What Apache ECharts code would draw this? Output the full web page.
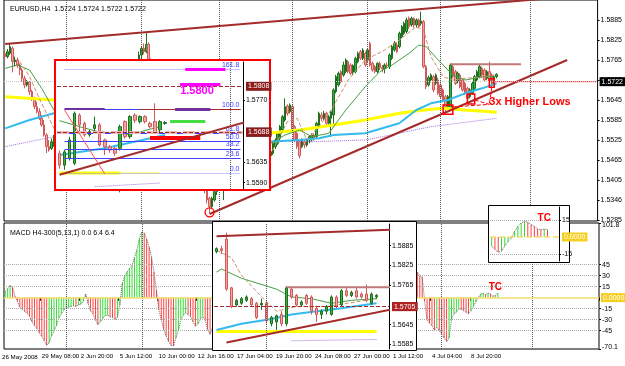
<!DOCTYPE html>
<html>
<head>
<meta charset="utf-8">
<script src="https://cdn.jsdelivr.net/npm/echarts@6/dist/echarts.min.js"></script>
<style>
  html, body { margin: 0; padding: 0; background: #fff; }
  #chart { width: 625px; height: 366px; }
</style>
</head>
<body>
<div id="chart"></div>
<script>
// ---- main chart data (EURUSD H4) ----
const barCount = 244;
const dateTicks = [[0,'26 May 2008'],[15,'29 May 08:00'],[31,'2 Jun 20:00'],[47,'5 Jun 12:00'],[63,'10 Jun 00:00'],
  [79,'12 Jun 16:00'],[95,'17 Jun 04:00'],[111,'19 Jun 20:00'],[127,'24 Jun 08:00'],[143,'27 Jun 00:00'],
  [159,'1 Jul 12:00'],[175,'4 Jul 04:00'],[191,'8 Jul 20:00']];
const priceTicks = [1.5285,1.5345,1.5405,1.5465,1.5525,1.5585,1.5645,1.5705,1.5765,1.5825,1.5885];
const priceTickLabels = ['1.5285','1.5346','1.5405','1.5465','1.5525','1.5585','1.5645','1.5705','1.5765','1.5825','1.5885'];
const weekLines = [25,56,88,118,149,179,216];

// [open, close, low, high]
const candles = [
[1.5785,1.5775,1.5768,1.5792],[1.5775,1.5790,1.5770,1.5798],[1.5785,1.5805,1.5780,1.5815],[1.5800,1.5760,1.5728,1.5806],
[1.5760,1.5765,1.5745,1.5775],[1.5765,1.5750,1.5742,1.5772],[1.5750,1.5735,1.5720,1.5755],[1.5735,1.5710,1.5700,1.5740],
[1.5710,1.5690,1.5680,1.5718],[1.5690,1.5700,1.5685,1.5705],[1.5700,1.5670,1.5660,1.5702],[1.5670,1.5650,1.5642,1.5675],
[1.5650,1.5625,1.5618,1.5655],[1.5625,1.5610,1.5605,1.5640],[1.5610,1.5590,1.5585,1.5620],[1.5590,1.5570,1.5565,1.5600],
[1.5570,1.5540,1.5535,1.5585],[1.5540,1.5505,1.5486,1.5545],[1.5505,1.5495,1.5490,1.5525],[1.5500,1.5520,1.5495,1.5530],
[1.5520,1.5530,1.5505,1.5540],[1.5530,1.5545,1.5515,1.5552],[1.5545,1.5535,1.5525,1.5560],[1.5535,1.5550,1.5530,1.5558],
[1.5550,1.5540,1.5532,1.5562],[1.5540,1.5525,1.5515,1.5548],[1.5525,1.5540,1.5520,1.5545],[1.5540,1.5555,1.5535,1.5565],
[1.5555,1.5545,1.5538,1.5570],[1.5545,1.5535,1.5525,1.5550],[1.5535,1.5548,1.5530,1.5555],[1.5548,1.5560,1.5540,1.5570],
[1.5560,1.5575,1.5552,1.5582],[1.5575,1.5565,1.5555,1.5585],[1.5565,1.5540,1.5530,1.5570],[1.5540,1.5520,1.5510,1.5545],
[1.5520,1.5500,1.5490,1.5525],[1.5500,1.5480,1.5470,1.5505],[1.5480,1.5490,1.5470,1.5498],[1.5490,1.5475,1.5465,1.5495],
[1.5475,1.5485,1.5468,1.5492],[1.5485,1.5470,1.5460,1.5490],[1.5470,1.5455,1.5445,1.5478],[1.5455,1.5465,1.5448,1.5470],
[1.5465,1.5450,1.5440,1.5472],[1.5450,1.5440,1.5425,1.5458],[1.5440,1.5420,1.5410,1.5445],[1.5405,1.5420,1.5368,1.5430],
[1.5420,1.5500,1.5410,1.5510],[1.5500,1.5560,1.5490,1.5575],[1.5560,1.5600,1.5545,1.5610],[1.5600,1.5640,1.5590,1.5650],
[1.5640,1.5665,1.5625,1.5680],[1.5665,1.5700,1.5655,1.5710],[1.5700,1.5745,1.5695,1.5755],[1.5745,1.5780,1.5738,1.5790],
[1.5780,1.5800,1.5770,1.5805],[1.5800,1.5790,1.5782,1.5815],[1.5790,1.5812,1.5785,1.5846],[1.5812,1.5762,1.5755,1.5818],
[1.5762,1.5735,1.5728,1.5770],[1.5735,1.5705,1.5695,1.5740],[1.5705,1.5690,1.5675,1.5715],[1.5690,1.5660,1.5650,1.5695],
[1.5660,1.5620,1.5610,1.5665],[1.5620,1.5590,1.5580,1.5628],[1.5590,1.5560,1.5550,1.5595],[1.5560,1.5530,1.5520,1.5565],
[1.5530,1.5510,1.5495,1.5538],[1.5510,1.5490,1.5480,1.5515],[1.5490,1.5505,1.5482,1.5512],[1.5505,1.5520,1.5498,1.5528],
[1.5520,1.5510,1.5500,1.5530],[1.5510,1.5525,1.5505,1.5535],[1.5525,1.5515,1.5505,1.5532],[1.5515,1.5500,1.5490,1.5520],
[1.5500,1.5490,1.5480,1.5505],[1.5490,1.5470,1.5460,1.5495],[1.5470,1.5450,1.5440,1.5475],[1.5450,1.5455,1.5435,1.5462],
[1.5455,1.5440,1.5430,1.5460],[1.5440,1.5410,1.5400,1.5445],[1.5410,1.5375,1.5365,1.5415],[1.5375,1.5345,1.5335,1.5380],
[1.5350,1.5325,1.5306,1.5355],[1.5325,1.5350,1.5318,1.5355],[1.5345,1.5370,1.5340,1.5378],[1.5370,1.5395,1.5360,1.5405],
[1.5395,1.5410,1.5385,1.5420],[1.5410,1.5400,1.5390,1.5418],[1.5375,1.5400,1.5345,1.5410],[1.5400,1.5425,1.5395,1.5432],
[1.5425,1.5450,1.5418,1.5458],[1.5450,1.5470,1.5440,1.5480],[1.5470,1.5460,1.5450,1.5482],[1.5460,1.5490,1.5455,1.5498],
[1.5490,1.5500,1.5478,1.5512],[1.5500,1.5485,1.5475,1.5508],[1.5485,1.5500,1.5478,1.5510],[1.5500,1.5525,1.5495,1.5535],
[1.5525,1.5510,1.5500,1.5532],[1.5510,1.5495,1.5485,1.5515],[1.5495,1.5505,1.5488,1.5512],[1.5505,1.5520,1.5498,1.5530],
[1.5520,1.5500,1.5490,1.5525],[1.5500,1.5485,1.5478,1.5505],[1.5485,1.5495,1.5475,1.5502],[1.5495,1.5505,1.5485,1.5512],
[1.5505,1.5475,1.5470,1.5510],[1.5478,1.5490,1.5472,1.5498],[1.5485,1.5515,1.5480,1.5520],[1.5505,1.5525,1.5498,1.5530],
[1.5515,1.5545,1.5510,1.5550],[1.5530,1.5565,1.5525,1.5570],[1.5555,1.5595,1.5550,1.5600],[1.5585,1.5625,1.5580,1.5650],
[1.5627,1.5605,1.5598,1.5632],[1.5610,1.5630,1.5605,1.5635],[1.5625,1.5555,1.5550,1.5632],[1.5565,1.5525,1.5518,1.5570],
[1.5545,1.5505,1.5498,1.5550],[1.5520,1.5478,1.5470,1.5525],[1.5505,1.5525,1.5500,1.5530],[1.5520,1.5510,1.5500,1.5528],
[1.5510,1.5525,1.5505,1.5530],[1.5525,1.5535,1.5515,1.5540],[1.5530,1.5540,1.5520,1.5545],[1.5540,1.5530,1.5522,1.5545],
[1.5535,1.5575,1.5530,1.5580],[1.5570,1.5605,1.5565,1.5610],[1.5600,1.5590,1.5582,1.5608],[1.5590,1.5605,1.5585,1.5612],
[1.5605,1.5575,1.5570,1.5610],[1.5575,1.5595,1.5568,1.5600],[1.5590,1.5610,1.5535,1.5615],[1.5600,1.5675,1.5565,1.5680],
[1.5670,1.5715,1.5665,1.5720],[1.5690,1.5725,1.5685,1.5730],[1.5730,1.5700,1.5695,1.5735],[1.5720,1.5750,1.5715,1.5760],
[1.5730,1.5765,1.5725,1.5770],[1.5760,1.5730,1.5725,1.5765],[1.5750,1.5725,1.5720,1.5755],[1.5728,1.5748,1.5720,1.5752],
[1.5730,1.5770,1.5725,1.5775],[1.5760,1.5785,1.5755,1.5790],[1.5790,1.5770,1.5765,1.5795],[1.5770,1.5795,1.5765,1.5800],
[1.5785,1.5750,1.5745,1.5790],[1.5765,1.5795,1.5760,1.5800],[1.5815,1.5750,1.5745,1.5820],[1.5755,1.5735,1.5730,1.5760],
[1.5745,1.5730,1.5725,1.5750],[1.5730,1.5755,1.5725,1.5758],[1.5755,1.5742,1.5735,1.5760],[1.5742,1.5738,1.5728,1.5750],
[1.5738,1.5750,1.5725,1.5755],[1.5750,1.5748,1.5740,1.5758],[1.5745,1.5780,1.5738,1.5785],[1.5770,1.5805,1.5765,1.5810],
[1.5795,1.5815,1.5790,1.5822],[1.5810,1.5790,1.5785,1.5818],[1.5805,1.5845,1.5800,1.5850],[1.5835,1.5865,1.5830,1.5870],
[1.5845,1.5875,1.5840,1.5880],[1.5850,1.5885,1.5845,1.5892],[1.5890,1.5865,1.5858,1.5895],[1.5870,1.5890,1.5865,1.5895],
[1.5890,1.5870,1.5862,1.5893],[1.5870,1.5885,1.5862,1.5890],[1.5885,1.5865,1.5860,1.5890],[1.5875,1.5882,1.5868,1.5910],
[1.5880,1.5745,1.5740,1.5885],[1.5745,1.5685,1.5678,1.5750],[1.5690,1.5712,1.5685,1.5718],[1.5705,1.5720,1.5698,1.5725],
[1.5715,1.5675,1.5668,1.5720],[1.5695,1.5720,1.5690,1.5725],[1.5705,1.5665,1.5660,1.5712],[1.5690,1.5655,1.5650,1.5695],
[1.5675,1.5645,1.5638,1.5680],[1.5655,1.5625,1.5610,1.5660],[1.5625,1.5655,1.5618,1.5660],[1.5615,1.5750,1.5612,1.5755],
[1.5745,1.5715,1.5710,1.5750],[1.5730,1.5695,1.5690,1.5735],[1.5700,1.5725,1.5695,1.5730],[1.5720,1.5685,1.5680,1.5725],
[1.5705,1.5675,1.5670,1.5710],[1.5695,1.5665,1.5660,1.5700],[1.5680,1.5650,1.5645,1.5685],[1.5655,1.5675,1.5650,1.5680],
[1.5665,1.5695,1.5660,1.5700],[1.5680,1.5715,1.5675,1.5720],[1.5705,1.5730,1.5700,1.5735],[1.5715,1.5745,1.5710,1.5750],
[1.5740,1.5720,1.5712,1.5745],[1.5735,1.5705,1.5700,1.5740],[1.5710,1.5730,1.5705,1.5735],[1.5730,1.5700,1.5695,1.5760],
[1.5720,1.5690,1.5680,1.5725],[1.5695,1.5715,1.5690,1.5720],[1.5715,1.5722,1.5710,1.5725]
];

const macd = [
8,12,17,14,2,-5,-13,-16,-19,-21,
-26,-33,-38,-42,-48,-53,-59,-65,-62,-52,
-46,-38,-28,-22,-17,-14,-13,-12,-11,-12,
-10,-9,-5,5,-8,-18,-22,-30,-37,-33,
-28,-25,-24,-26,-27,-30,-27,-10,20,29,
35,40,44,55,65,80,90,88,80,69,
55,35,10,-17,-30,-44,-52,-60,-65,-66,
-55,-45,-30,-24,-21,-23,-26,-33,-39,-36,
-30,-26,-30,-44,-50,-40,-30,-20,-12,-8,
-5,2,8,12,10,14,15,10,9,12,
8,3,2,5,1,-3,-2,0,-4,-3,
2,6,12,18,26,34,33,30,18,8,
-2,-10,-8,-7,-5,-3,-1,-2,6,14,
15,16,12,12,14,28,38,42,38,40,
42,36,30,30,33,36,32,32,26,28,
20,12,8,9,10,10,12,15,22,30,
35,33,40,45,48,50,45,42,38,35,
30,28,-5,-30,-35,-38,-45,-40,-45,-50,
-55,-60,-55,-30,-22,-20,-15,-16,-18,-20,
-22,-18,-12,-6,0,5,6,4,6,5,
2,3,6.4
];
const macdLevels = [45,30,15,-15,-30,-45];
const macdTicks = [101.8,45,30,15,-15,-30,-45,-70.1];

// moving averages [bar, price]
const maGreen = [[0,1.5740],[5,1.5750],[10,1.5735],[15,1.5680],[20,1.5615],[108,1.5510],[115,1.5540],[121,1.5555],
  [126,1.5535],[133,1.5545],[140,1.5615],[148,1.5685],[154,1.5730],[159,1.5750],[166,1.5785],[170,1.5810],[173,1.5805],
  [178,1.5765],[184,1.5720],[189,1.5705],[193,1.5710],[197,1.5715],[201,1.5715]];
const maBrown = [[6,1.5760],[10,1.5715],[14,1.5650],[20,1.5560],[110,1.5495],[116,1.5580],[120,1.5590],[124,1.5525],
  [130,1.5575],[134,1.5615],[141,1.5705],[148,1.5765],[156,1.5795],[162,1.5825],[169,1.5865],[172,1.5855],[175,1.5775],
  [180,1.5715],[184,1.5705],[189,1.5710],[197,1.5715],[201,1.5720]];
const maBlue = [[0,1.5560],[10,1.5585],[20,1.5605],[108,1.5520],[121,1.5525],[129,1.5530],[135,1.5540],[148,1.5545],
  [155,1.5560],[162,1.5575],[169,1.5615],[175,1.5635],[182,1.5645],[189,1.5665],[196,1.5680],[202,1.5695]];
const maYellow = [[0,1.5655],[20,1.5645],[108,1.5545],[121,1.5555],[135,1.5570],[148,1.5585],[162,1.5605],[172,1.5615],
  [180,1.5620],[189,1.5615],[202,1.5608]];
const maPurple = [[0,1.5505],[20,1.5535],[126,1.5520],[148,1.5525],[155,1.5535],[175,1.5565],[202,1.5590]];

const upperTrend = [[0,1.5813],[243,1.5962]];
const lowerTrend = [[84,1.5303],[231,1.5765]];
const resistance = [[183,1.5752],[212,1.5752]];
const supportRed = [[200,1.5700],[243,1.5700]];
const bidPrice = 1.5722;
const lowBoxes = [[180,184,1.5630,1.5602],[190,193,1.5663,1.5633],[199,201,1.5709,1.5683]];
const boxLinks = [[[184,1.5624],[199,1.5632]],[[193,1.5645],[199,1.5632]],[[200,1.5683],[199,1.5632]]];
const swingLow = [84,1.5308];

// ---- inset 1: zoom of the consolidation with fib levels ----
const zoomCandles = [
[1.5654,1.5628,1.5620,1.5660],[1.5628,1.5657,1.5618,1.5661],[1.5643,1.5683,1.5638,1.5690],[1.5632,1.5741,1.5628,1.5745],
[1.5737,1.5716,1.5697,1.5741],[1.5719,1.5694,1.5690,1.5723],[1.5694,1.5701,1.5690,1.5705],[1.5708,1.5716,1.5697,1.5734],
[1.5716,1.5672,1.5668,1.5720],[1.5683,1.5668,1.5650,1.5686],[1.5668,1.5661,1.5655,1.5672],[1.5665,1.5654,1.5648,1.5668],
[1.5665,1.5712,1.5660,1.5716],[1.5723,1.5690,1.5686,1.5726],[1.5690,1.5734,1.5686,1.5737],[1.5737,1.5726,1.5720,1.5741],
[1.5723,1.5734,1.5719,1.5737],[1.5734,1.5723,1.5719,1.5737],[1.5719,1.5712,1.5708,1.5723],[1.5723,1.5701,1.5697,1.5763],
[1.5705,1.5723,1.5697,1.5726],[1.5719,1.5721,1.5716,1.5724]
];
const zoomTicks = [1.5590,1.5635,1.5770];
const fibLow = 1.5610, fibHigh = 1.5750;
const fibRatios = [0,23.6,38.2,50,61.8,100,161.8];
const zoomTrend = [[0,1.5607],[37,1.5722]];
const zoomDiag = [[1,1.5748],[9,1.5609]];
const zoomYellow = [[0,1.5611],[12,1.5611]];
const zoomYellowThin = [[12,1.5611],[20,1.5611]];
const zoomPurple = [[7,1.5581],[20,1.5589]];
const zoomBlue = [[0,1.5650],[9,1.5665],[21,1.5694]];
const zoomGreen = [[0,1.5725],[4,1.5712],[8,1.5700],[14,1.5695],[20,1.5712]];
const zoomTarget = 1.5805, zoomBid = 1.5723, zoomSupport = 1.5687;

// ---- inset 2: zoom of the last 33 bars ----
const zoom2Candles = [
[1.5867,1.5876,1.5862,1.5880],[1.5876,1.5870,1.5860,1.5885],[1.5905,1.5753,1.5748,1.5925],[1.5757,1.5700,1.5695,1.5760],
[1.5705,1.5719,1.5700,1.5724],[1.5710,1.5724,1.5705,1.5729],[1.5719,1.5729,1.5714,1.5734],[1.5724,1.5705,1.5700,1.5729],
[1.5710,1.5667,1.5662,1.5714],[1.5705,1.5710,1.5690,1.5724],[1.5710,1.5657,1.5648,1.5714],[1.5648,1.5667,1.5640,1.5672],
[1.5653,1.5672,1.5629,1.5676],[1.5676,1.5648,1.5640,1.5686],[1.5648,1.5757,1.5640,1.5762],[1.5753,1.5729,1.5724,1.5760],
[1.5734,1.5705,1.5700,1.5738],[1.5705,1.5714,1.5700,1.5719],[1.5734,1.5710,1.5705,1.5738],[1.5729,1.5686,1.5676,1.5734],
[1.5695,1.5676,1.5653,1.5700],[1.5676,1.5686,1.5662,1.5691],[1.5686,1.5700,1.5676,1.5705],[1.5676,1.5729,1.5672,1.5734],
[1.5729,1.5700,1.5695,1.5734],[1.5705,1.5748,1.5700,1.5753],[1.5748,1.5734,1.5729,1.5757],[1.5734,1.5743,1.5729,1.5748],
[1.5748,1.5729,1.5724,1.5757],[1.5738,1.5729,1.5724,1.5743],[1.5738,1.5719,1.5714,1.5767],[1.5710,1.5738,1.5705,1.5743],
[1.5729,1.5734,1.5724,1.5738]
];
const zoom2Ticks = [1.5585,1.5645,1.5765,1.5825,1.5885];
const zoom2Upper = [[0,1.5914],[35,1.5934]];
const zoom2Lower = [[2,1.5591],[35,1.5691]];
const zoom2Resist = [[14,1.5759],[35,1.5759]];
const zoom2Green = [[0,1.5805],[1,1.5814],[5,1.5786],[12,1.5753],[15,1.5729],[19,1.5724],[23,1.5710],[27,1.5719],[32,1.5724]];
const zoom2Brown = [[0,1.5871],[3,1.5848],[5,1.5795],[9,1.5730],[12,1.5686],[16,1.5700],[22,1.5700],[32,1.5724]];
const zoom2Blue = [[0,1.5629],[5,1.5648],[11,1.5662],[15,1.5676],[20,1.5686],[25,1.5695],[32,1.5710]];
const zoom2Yellow = [[0,1.5624],[32,1.5624]];
const zoom2Purple = [[15,1.5596],[32,1.5600]];
const zoom2Bid = 1.5722, zoom2Line = 1.5705;

// ---- inset 3: zoom of the last MACD bars ----
const zoom3Macd = [-8,-11,-13.5,-12.6,-8,-4,-1,5,9.4,12.4,13.8,13,11,9.4,7,6.5,7,6.5];

const FONT = 'Liberation Sans, Arial, sans-serif';
const UP = '#3cb043', UP_B = '#1f6f1f', DN = '#f2a5a5', DN_B = '#d05a5a';

function idx(n) { return Array.from({ length: n }, (_, i) => String(i)); }
function line(xi, data, color, width, type, z) {
  return { type: 'line', xAxisIndex: xi, yAxisIndex: xi, data: data, symbol: 'none', silent: true,
    z: z || 3, lineStyle: { color: color, width: width, type: type || 'solid' } };
}
function candleSeries(xi, data, bw, z) {
  return { type: 'candlestick', xAxisIndex: xi, yAxisIndex: xi, data: data, barWidth: bw, silent: true, z: z || 2,
    itemStyle: { color: UP, color0: DN, borderColor: UP_B, borderColor0: DN_B, borderWidth: 1 } };
}
function histItems(vals) {
  return vals.map((v, i) => ({ value: v, itemStyle: { color: (i > 0 && v < vals[i - 1]) ? '#ff4040' : '#33dd33' } }));
}
function seg(x0, x1, y, color, width, type) {
  return [{ coord: [x0, y], lineStyle: { color: color, width: width, type: type || 'solid' }, label: { show: false } },
          { coord: [x1, y] }];
}
const txt = { fontSize: 7, color: '#000', fontFamily: FONT };
const dateTxt = { fontSize: 6.2, color: '#000', fontFamily: FONT };
// the first date sits at the very left edge, so it is drawn as a title; the rest come from the category axis
const tickMap = {};
dateTicks.slice(1).forEach(d => { tickMap[d[0]] = d[1]; });

const chart = echarts.init(document.getElementById('chart'));

const option = {
  animation: false,
  backgroundColor: '#fff',
  title: [
    { text: 'EURUSD,H4  1.5724 1.5724 1.5722 1.5722', left: 5, top: 1, textStyle: Object.assign({ fontWeight: 'normal' }, txt) },
    { text: 'MACD H4-300(5,13,1) 0.0 6.4 6.4', left: 5, top: 225, textStyle: Object.assign({ fontWeight: 'normal' }, txt) },
    { text: dateTicks[0][1], left: 2, top: 354, padding: 0, textStyle: Object.assign({ fontWeight: 'normal' }, dateTxt) }
  ],
  grid: [
    { left: 4, top: 0, width: 595, height: 221, show: true, borderColor: '#000', borderWidth: 1, backgroundColor: '#fff' },
    { left: 4, top: 223, width: 595, height: 126, show: true, borderColor: '#000', borderWidth: 1, backgroundColor: '#fff' },
    { left: 57, top: 62, width: 186, height: 127 },
    { left: 214, top: 224, width: 175, height: 125 },
    { left: 490, top: 207, width: 69, height: 54 }
  ],
  xAxis: [
    { type: 'category', gridIndex: 0, data: idx(barCount), axisLine: { show: false }, axisTick: { show: false }, axisLabel: { show: false } },
    { type: 'category', gridIndex: 1, data: idx(barCount), axisLine: { show: false },
      axisTick: { show: true, interval: (i) => tickMap[i] !== undefined, length: 3, lineStyle: { color: '#000' } },
      axisLabel: Object.assign({ interval: (i) => tickMap[i] !== undefined, formatter: (v, i) => tickMap[i] || '',
        align: 'left', margin: 4 }, dateTxt) },
    { type: 'category', gridIndex: 2, data: idx(37), show: false },
    { type: 'category', gridIndex: 3, data: idx(35), show: false },
    { type: 'category', gridIndex: 4, data: idx(21), show: false }
  ],
  yAxis: [
    { type: 'value', gridIndex: 0, position: 'right', min: 1.5282, max: 1.5945, splitLine: { show: false },
      axisLine: { show: false }, axisTick: { show: true, customValues: priceTicks, length: 2, lineStyle: { color: '#000' } },
      axisLabel: Object.assign({ customValues: priceTicks, margin: 3,
        formatter: (v) => priceTickLabels[priceTicks.indexOf(v)] || v.toFixed(4) }, txt) },
    { type: 'value', gridIndex: 1, position: 'right', min: -70.1, max: 101.8, splitLine: { show: false },
      axisLine: { show: false }, axisTick: { show: true, customValues: macdTicks, length: 2, lineStyle: { color: '#000' } },
      axisLabel: Object.assign({ customValues: macdTicks, margin: 3,
        formatter: (v) => v === 101.8 ? '{top|101.8}' : (v === -70.1 ? '{bot|-70.1}' : String(v)),
        rich: { top: { fontSize: 7, fontFamily: FONT, padding: [5, 0, 0, 0] }, bot: { fontSize: 7, fontFamily: FONT, padding: [0, 0, 3, 0] } } }, txt) },
    { type: 'value', gridIndex: 2, position: 'right', min: 1.5576, max: 1.5853, z: 12, splitLine: { show: false },
      axisLine: { show: true, lineStyle: { color: '#000' } }, axisTick: { show: true, customValues: zoomTicks, length: 2 },
      axisLabel: Object.assign({ customValues: zoomTicks, margin: 3, formatter: (v) => v.toFixed(4) }, txt) },
    { type: 'value', gridIndex: 3, position: 'right', min: 1.5571, max: 1.5951, z: 12, splitLine: { show: false },
      axisLine: { show: true, lineStyle: { color: '#000' } }, axisTick: { show: true, customValues: zoom2Ticks, length: 2 },
      axisLabel: Object.assign({ customValues: zoom2Ticks, margin: 3, formatter: (v) => v.toFixed(4) }, txt) },
    { type: 'value', gridIndex: 4, position: 'right', min: -21.2, max: 26.5, z: 12, splitLine: { show: false },
      axisLine: { show: true, lineStyle: { color: '#000' } }, axisTick: { show: true, customValues: [15, -15], length: 2 },
      axisLabel: Object.assign({ customValues: [15, -15], margin: 3, formatter: (v) => String(v) }, txt) }
  ],
  graphic: [
    { type: 'rect', z: 8, shape: { x: 55, y: 60, width: 215, height: 130 }, style: { fill: '#fff', stroke: '#ff0000', lineWidth: 2 } },
    { type: 'rect', z: 8, shape: { x: 212.5, y: 221.5, width: 204, height: 129 }, style: { fill: '#fff', stroke: '#000', lineWidth: 1 } },
    { type: 'rect', z: 8, shape: { x: 488.5, y: 205.5, width: 81, height: 57 }, style: { fill: '#fff', stroke: '#000', lineWidth: 1 } }
  ],
  series: [
    // ---------- main price panel ----------
    Object.assign(candleSeries(0, candles, 2, 2), {
      markLine: {
        silent: true, symbol: 'none', z: 5, animation: false,
        data: weekLines.map(w => ({ xAxis: w, lineStyle: { color: '#555', type: 'dotted', width: 1 }, label: { show: false } }))
          .concat([{ yAxis: bidPrice, lineStyle: { color: '#c8c8c8', type: 'dotted', width: 1 },
            label: { show: true, position: 'end', formatter: bidPrice.toFixed(4), color: '#fff', backgroundColor: '#000',
              padding: [1, 2], distance: 2, fontSize: 7, fontFamily: FONT } }])
          .concat(boxLinks.map(l => [{ coord: l[0], lineStyle: { color: '#ff0000', width: 1 }, label: { show: false } }, { coord: l[1] }]))
      },
      markArea: {
        silent: true, z: 5,
        itemStyle: { color: 'rgba(0,0,0,0)', borderColor: '#ff0000', borderWidth: 1.5 },
        data: lowBoxes.map(b => [{ coord: [b[0], b[2]] }, { coord: [b[1], b[3]] }])
      },
      markPoint: {
        silent: true, z: 5,
        data: [
          { coord: swingLow, symbol: 'circle', symbolSize: 9, itemStyle: { color: 'rgba(0,0,0,0)', borderColor: '#ff0000', borderWidth: 1.3 }, label: { show: false } },
          { coord: [199, 1.5640], symbol: 'rect', symbolSize: 0, label: { show: true, position: 'right', distance: 0,
            formatter: '3x Higher Lows', color: '#ff0000', fontSize: 11, fontWeight: 'bold', fontFamily: FONT } }
        ]
      }
    }),
    line(0, maPurple, '#a070e0', 1, 'dotted', 3),
    line(0, maYellow, '#ffff00', 3, 'solid', 3),
    line(0, maBlue, '#33bbee', 2, 'solid', 3),
    line(0, maGreen, '#44a044', 1, 'solid', 3),
    line(0, maBrown, '#c9906a', 1, 'dashed', 3),
    line(0, upperTrend, '#a52a2a', 2, 'solid', 4),
    line(0, lowerTrend, '#a52a2a', 2, 'solid', 4),
    line(0, resistance, '#c07878', 2, 'solid', 4),
    line(0, supportRed, '#ff2020', 1, 'solid', 4),

    // ---------- MACD panel ----------
    { type: 'bar', xAxisIndex: 1, yAxisIndex: 1, data: histItems(macd), barWidth: 1, silent: true, z: 2,
      markLine: {
        silent: true, symbol: 'none', z: 5,
        data: macdLevels.map(v => ({ yAxis: v, lineStyle: { color: '#aaa', type: 'dotted', width: 1 }, label: { show: false } }))
          .concat(weekLines.map(w => ({ xAxis: w, lineStyle: { color: '#555', type: 'dotted', width: 1 }, label: { show: false } })))
          .concat([{ yAxis: 0, lineStyle: { color: '#f5dc6a', width: 1.5, type: 'solid' },
            label: { show: true, position: 'end', formatter: '0.0000', color: '#fff', backgroundColor: '#f5cf1f',
              padding: [1, 2], distance: 2, fontSize: 7, fontFamily: FONT } }])
      },
      markPoint: {
        silent: true,
        data: [{ coord: [201, 14], symbol: 'rect', symbolSize: 0, label: { show: true, formatter: 'TC', color: '#ff0000',
          fontSize: 10, fontWeight: 'bold', fontFamily: FONT } }]
      }
    },
    line(1, macd, '#666', 1, 'dotted', 3),

    // ---------- inset 1 ----------
    Object.assign(candleSeries(2, zoomCandles, 3, 12), {
      markLine: {
        silent: true, symbol: 'none', z: 13,
        data: fibRatios.map(r => {
          const p = fibLow + (fibHigh - fibLow) * r / 100;
          const dotted = (r === 0 || r === 161.8);
          return [{ coord: [1, p], lineStyle: { color: dotted ? '#8c8cff' : '#4040ff', width: 1, type: dotted ? 'dotted' : 'solid' },
            label: { show: true, position: 'insideEndTop', distance: 1, formatter: r.toFixed(1), color: '#4040ff', fontSize: 7, fontFamily: FONT } },
            { coord: [36, p] }];
        }).concat([
          { yAxis: zoomTarget, lineStyle: { color: '#a52a2a', width: 1 }, label: { show: true, position: 'end', formatter: '1.5808',
            color: '#fff', backgroundColor: '#8b1a1a', padding: [1, 2], distance: 3, fontSize: 7, fontFamily: FONT } },
          { yAxis: zoomBid, lineStyle: { color: '#eab8b8', width: 3 }, label: { show: true, position: 'end', formatter: '1.5722',
            color: '#fff', backgroundColor: '#3a0000', padding: [1, 2], distance: 3, fontSize: 7, fontFamily: FONT } },
          { yAxis: zoomSupport, lineStyle: { color: '#a52a2a', width: 1 }, label: { show: true, position: 'end', formatter: '1.5688',
            color: '#fff', backgroundColor: '#8b1a1a', padding: [1, 2], distance: 3, fontSize: 7, fontFamily: FONT } },
          { xAxis: 34, lineStyle: { color: '#555', type: 'dotted', width: 1 }, label: { show: false } },
          seg(25, 33, fibLow + (fibHigh - fibLow) * 1.618, '#ff00ff', 3),
          seg(24, 32, zoomTarget, '#ff00ff', 3),
          seg(1, 9, fibHigh, '#7030a0', 2),
          seg(16, 36, fibHigh, '#a52a2a', 1),
          seg(23, 30, fibHigh, '#7030a0', 3),
          seg(22, 29, zoomBid, '#44dd44', 3),
          seg(18, 28, zoomSupport, '#ff0000', 4)
        ])
      },
      markPoint: {
        silent: true, z: 13,
        data: [{ coord: [24, 1.5790], symbol: 'rect', symbolSize: 0, label: { show: true, position: 'right', distance: 0,
          formatter: '1.5800', color: '#ff00ff', fontSize: 11, fontWeight: 'bold', fontFamily: FONT } }]
      }
    }),
    line(2, zoomYellow, '#ffff00', 3, 'solid', 12),
    line(2, zoomYellowThin, '#ffff66', 1.5, 'solid', 12),
    line(2, zoomPurple, '#a070e0', 1, 'dotted', 12),
    line(2, zoomBlue, '#33bbee', 2, 'solid', 12),
    line(2, zoomGreen, '#44a044', 1, 'solid', 12),
    line(2, zoomTrend, '#a52a2a', 2, 'solid', 13),
    line(2, zoomDiag, '#ff5050', 1, 'solid', 13),

    // ---------- inset 2 ----------
    Object.assign(candleSeries(3, zoom2Candles, 3, 12), {
      markLine: {
        silent: true, symbol: 'none', z: 13,
        data: [
          { yAxis: zoom2Bid, lineStyle: { color: '#c8c8c8', width: 1 }, label: { show: true, position: 'end', formatter: '1.5722',
            color: '#fff', backgroundColor: '#000', padding: [1, 2], distance: 3, fontSize: 7, fontFamily: FONT } },
          { yAxis: zoom2Line, lineStyle: { color: '#a52a2a', width: 1 }, label: { show: true, position: 'end', formatter: '1.5705',
            color: '#fff', backgroundColor: '#b22222', padding: [1, 2], distance: 3, fontSize: 7, fontFamily: FONT } },
          { xAxis: 10, lineStyle: { color: '#555', type: 'dotted', width: 1 }, label: { show: false } }
        ]
      }
    }),
    line(3, zoom2Yellow, '#ffff00', 3, 'solid', 12),
    line(3, zoom2Purple, '#a070e0', 1, 'dotted', 12),
    line(3, zoom2Blue, '#33bbee', 2, 'solid', 12),
    line(3, zoom2Green, '#44a044', 1, 'solid', 12),
    line(3, zoom2Brown, '#c9906a', 1, 'dashed', 12),
    line(3, zoom2Upper, '#a52a2a', 2, 'solid', 13),
    line(3, zoom2Lower, '#a52a2a', 2, 'solid', 13),
    line(3, zoom2Resist, '#c07878', 2, 'solid', 13),

    // ---------- inset 3 ----------
    { type: 'bar', xAxisIndex: 4, yAxisIndex: 4, data: histItems(zoom3Macd), barWidth: 1, silent: true, z: 12,
      markLine: {
        silent: true, symbol: 'none', z: 13,
        data: [
          { yAxis: 15, lineStyle: { color: '#aaa', type: 'dotted', width: 1 }, label: { show: false } },
          { yAxis: -15, lineStyle: { color: '#aaa', type: 'dotted', width: 1 }, label: { show: false } },
          { yAxis: 0, lineStyle: { color: '#f5dc6a', width: 1.5 }, label: { show: true, position: 'end', formatter: '0.0000',
            color: '#fff', backgroundColor: '#f5cf1f', padding: [1, 2], distance: 3, fontSize: 7, fontFamily: FONT } }
        ]
      },
      markPoint: {
        silent: true, z: 13,
        data: [{ coord: [16, 17], symbol: 'rect', symbolSize: 0, label: { show: true, formatter: 'TC', color: '#ff0000',
          fontSize: 10, fontWeight: 'bold', fontFamily: FONT } }]
      }
    },
    line(4, zoom3Macd, '#666', 1, 'dotted', 12)
  ]
};

chart.setOption(option);
</script>
</body>
</html>
